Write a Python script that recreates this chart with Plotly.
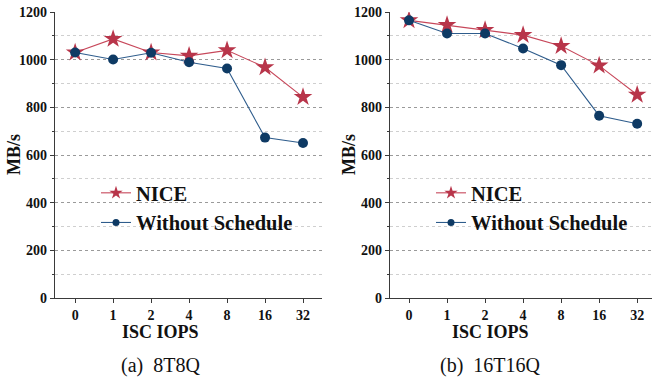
import plotly.graph_objects as go

categories = ["0", "1", "2", "4", "8", "16", "32"]
nice_8t8q = [1030, 1087, 1030, 1016, 1039, 968, 843]
wo_8t8q = [1030, 1001, 1029, 989, 963, 673, 650]
nice_16t16q = [1165, 1145, 1124, 1103, 1057, 975, 853]
wo_16t16q = [1165, 1110, 1110, 1047, 977, 765, 731]
series_names = ["NICE", "Without Schedule"]
captions = ["(a)  8T8Q", "(b)  16T16Q"]
y_title = "MB/s"
x_title = "ISC IOPS"

RED_LINE = "#C7475A"
RED_MK = "#B8354A"
BLUE_LINE = "#2E5C8C"
BLUE_MK = "#0E3A64"
AX = "#3a3a3a"
FONT = "Liberation Serif"

W, H = 652, 379
panels = [
    dict(x0=55, x1=322, xr=[-0.53, 6.5], nice=nice_8t8q, wo=wo_8t8q, cap=captions[0], cx=160),
    dict(x0=390, x1=652, xr=[-0.5, 6.39], nice=nice_16t16q, wo=wo_16t16q, cap=captions[1], cx=490),
]
y_top, y_bot = 12, 298
ydom = [1 - y_bot / H, 1 - y_top / H]

fig = go.Figure()
layout = dict(width=W, height=H, margin=dict(l=0, r=0, t=0, b=0, autoexpand=False),
              paper_bgcolor="white", plot_bgcolor="white",
              font=dict(family=FONT, color="#111"), showlegend=True)
annotations = []
tickfont = dict(size=14, family=FONT, color="#111", weight="bold")

for i, p in enumerate(panels):
    n = i * 4
    xa = "xaxis" if i == 0 else f"xaxis{n+1}"
    ya = "yaxis" if i == 0 else f"yaxis{n+1}"
    xref = "x" if i == 0 else f"x{n+1}"
    yref = "y" if i == 0 else f"y{n+1}"
    leg = "legend" if i == 0 else "legend2"
    dom = [p["x0"] / W, min(p["x1"] / W, 1.0)]
    xr = p["xr"]

    fig.add_trace(go.Scatter(x=categories, y=p["nice"], name=series_names[0], mode="lines+markers",
                             line=dict(color=RED_LINE, width=1.1),
                             marker=dict(symbol="star", size=14, color=RED_MK),
                             xaxis=xref, yaxis=yref, showlegend=False))
    fig.add_trace(go.Scatter(x=categories, y=p["wo"], name=series_names[1], mode="lines+markers",
                             line=dict(color=BLUE_LINE, width=1.1),
                             marker=dict(symbol="circle", size=10, color=BLUE_MK),
                             xaxis=xref, yaxis=yref, showlegend=False))
    # legend entries (smaller symbols, as in the reference legend)
    fig.add_trace(go.Scatter(x=[None], y=[None], name=series_names[0], mode="lines+markers",
                             line=dict(color=RED_LINE, width=1.1),
                             marker=dict(symbol="star", size=10, color=RED_MK),
                             xaxis=xref, yaxis=yref, legend=leg))
    fig.add_trace(go.Scatter(x=[None], y=[None], name=series_names[1], mode="lines+markers",
                             line=dict(color=BLUE_LINE, width=1.1),
                             marker=dict(symbol="circle", size=7, color=BLUE_MK),
                             xaxis=xref, yaxis=yref, legend=leg))

    layout[xa] = dict(domain=dom, anchor=yref, type="category", range=xr, automargin=False,
                      showline=True, linecolor=AX, linewidth=1.3,
                      ticks="outside", ticklen=4, tickcolor=AX, tickwidth=1.2,
                      tickfont=tickfont,
                      showgrid=False, zeroline=False, fixedrange=True)
    layout[ya] = dict(domain=ydom, anchor=xref, range=[0, 1200], dtick=200, automargin=False,
                      showline=True, linecolor=AX, linewidth=1.3,
                      ticks="outside", ticklen=4, tickcolor=AX, tickwidth=1.2,
                      tickfont=tickfont,
                      showgrid=True, gridcolor="#9a9a9a", griddash="dot", gridwidth=1,
                      minor=dict(dtick=100, ticks="outside", ticklen=2, tickcolor=AX,
                                 showgrid=True, gridcolor="#cfcfcf", griddash="dot", gridwidth=1),
                      zeroline=False, fixedrange=True)
    # top mirror axis with inward ticks
    layout[f"xaxis{n+2}"] = dict(domain=dom, anchor=yref, overlaying=xref, side="top",
                                 range=xr, tickvals=list(range(len(categories))), automargin=False,
                                 showticklabels=False, showline=True, linecolor=AX, linewidth=1.3,
                                 ticks="inside", ticklen=5, tickcolor=AX, tickwidth=1.2,
                                 minor=dict(tickvals=[k + 0.5 for k in range(len(categories) - 1)],
                                            ticks="inside", ticklen=3, tickcolor=AX),
                                 showgrid=False, zeroline=False, fixedrange=True)
    # bottom minor ticks between categories
    layout[f"xaxis{n+3}"] = dict(domain=dom, anchor=yref, overlaying=xref, side="bottom",
                                 range=xr, tickvals=[k + 0.5 for k in range(len(categories) - 1)],
                                 showticklabels=False, showline=False, automargin=False,
                                 ticks="outside", ticklen=2, tickcolor=AX, tickwidth=1.2,
                                 showgrid=False, zeroline=False, fixedrange=True)
    # right mirror axis with inward ticks
    layout[f"yaxis{n+2}"] = dict(domain=ydom, anchor=xref, overlaying=yref, side="right",
                                 range=[0, 1200], dtick=200, showticklabels=False, automargin=False,
                                 showline=True, linecolor=AX, linewidth=1.3,
                                 ticks="inside", ticklen=4, tickcolor=AX, tickwidth=1.2,
                                 minor=dict(dtick=100, ticks="inside", ticklen=2, tickcolor=AX),
                                 showgrid=False, zeroline=False, fixedrange=True)

    annotations.append(dict(text=x_title, x=p["cx"] / W, y=1 - 332 / H, xref="paper", yref="paper",
                            xanchor="center", yanchor="middle", showarrow=False,
                            font=dict(size=18, family=FONT, color="#111", weight="bold")))
    annotations.append(dict(text=p["cap"], x=p["cx"] / W, y=1 - 365 / H, xref="paper", yref="paper",
                            xanchor="center", yanchor="middle", showarrow=False,
                            font=dict(size=20, family=FONT, color="#111")))
    annotations.append(dict(text=y_title, x=(p["x0"] - 41) / W, y=1 - 155 / H, xref="paper", yref="paper",
                            xanchor="center", yanchor="middle", textangle=-90, showarrow=False,
                            font=dict(size=18, family=FONT, color="#111", weight="bold")))
    layout[leg] = dict(x=(p["x0"] + 41) / W, y=1 - 173 / H, xanchor="left", yanchor="top",
                       bgcolor="rgba(0,0,0,0)", tracegroupgap=0,
                       font=dict(size=20.5, family=FONT, color="#111", weight="bold"))

layout["annotations"] = annotations
fig.update_layout(**layout)
fig.write_html("out.html", config={"displayModeBar": False},
               post_script="document.body.style.margin='0';document.body.style.overflow='hidden';")
